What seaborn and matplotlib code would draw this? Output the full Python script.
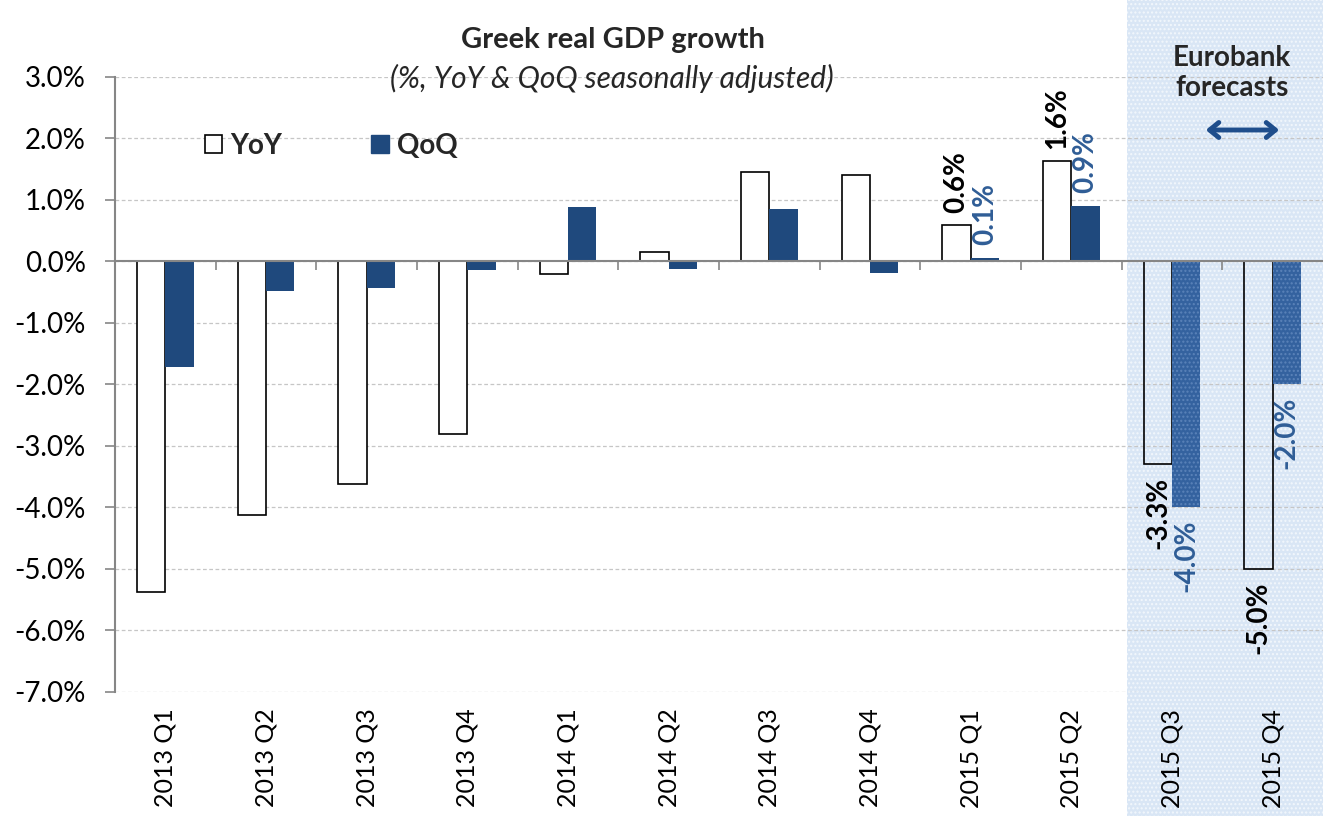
import matplotlib
matplotlib.use("Agg")
import matplotlib.pyplot as plt
import seaborn as sns
import pandas as pd
import numpy as np
from matplotlib.patches import Patch
from matplotlib.ticker import FuncFormatter, MultipleLocator

# Quarterly real GDP growth, % (seasonally adjusted)
quarters = ["2013 Q1", "2013 Q2", "2013 Q3", "2013 Q4",
            "2014 Q1", "2014 Q2", "2014 Q3", "2014 Q4",
            "2015 Q1", "2015 Q2", "2015 Q3", "2015 Q4"]
yoy = [-5.38, -4.12, -3.62, -2.8, -0.2, 0.15, 1.45, 1.4, 0.59, 1.63, -3.3, -5.0]
qoq = [-1.72, -0.48, -0.43, -0.14, 0.88, -0.12, 0.85, -0.19, 0.06, 0.91, -4.0, -2.0]
labelled = ["2015 Q1", "2015 Q2", "2015 Q3", "2015 Q4"]
forecast = ["2015 Q3", "2015 Q4"]
series = ["YoY", "QoQ"]

NAVY = "#1f497d"
LABEL_BLUE = "#2f5d96"
AXIS_GREY = "#868686"

sns.set_theme(style="white")
plt.rcParams["font.family"] = ["Lato", "DejaVu Sans"]
plt.rcParams["hatch.linewidth"] = 1.0

df = pd.DataFrame({
    "quarter": quarters * 2,
    "series": [series[0]] * len(quarters) + [series[1]] * len(quarters),
    "value": yoy + qoq,
})

W, H = 1323, 816
fig = plt.figure(figsize=(W / 100, H / 100), dpi=100)
ax = fig.add_axes([115 / W, 1 - 692 / H, 1 - 115 / W, (692 - 77) / H])
ax.set_facecolor("none")

sns.barplot(data=df, x="quarter", y="value", hue="series", order=quarters,
            hue_order=series, palette={"YoY": "white", "QoQ": NAVY},
            width=0.56, gap=0, saturation=1, legend=False, ax=ax, zorder=3)

yoy_bars, qoq_bars = ax.containers[0], ax.containers[1]
for bar, q in zip(yoy_bars, quarters):
    bar.set_edgecolor("black")
    bar.set_linewidth(1.2)
    if q in forecast:
        bar.set_facecolor("none")
for bar, q in zip(qoq_bars, quarters):
    bar.set_linewidth(0)
    if q in forecast:
        bar.set_facecolor("#34629f")
        bar.set_edgecolor("#5b83b9")
        bar.set_hatch("....")
        bar.set_linewidth(0)

# forecast window shading
first_fc = quarters.index(forecast[0])
ax.axvspan(first_fc - 0.45, len(quarters) - 0.5, ymin=-0.21, ymax=1.13,
           facecolor="#d9e6f5", edgecolor="#f2f7fc", hatch="....", lw=0,
           clip_on=False, zorder=0.3)

ax.set_xlim(-0.5, len(quarters) - 0.5)
ax.set_ylim(-7.0, 3.0)
ax.yaxis.set_major_locator(MultipleLocator(1.0))
ax.yaxis.set_major_formatter(FuncFormatter(lambda v, p: f"{v:.1f}%"))
ax.set_xlabel("")
ax.set_ylabel("")

ax.set_axisbelow(True)
ax.yaxis.grid(True, linestyle=(0, (3, 2)), color="#c6c6c6", lw=0.9)
ax.xaxis.grid(False)

for side in ["top", "right", "bottom"]:
    ax.spines[side].set_visible(False)
ax.spines["left"].set_color(AXIS_GREY)
ax.spines["left"].set_linewidth(1.5)

ax.tick_params(axis="y", left=True, direction="out", length=7, width=1.2,
               color=AXIS_GREY, pad=14, labelsize=20, labelcolor="black")
ax.tick_params(axis="x", bottom=False, length=0, pad=12, labelsize=18,
               labelrotation=90, labelcolor="black")

# zero line with category separators
ax.axhline(0, color=AXIS_GREY, lw=1.5, zorder=4)
ax.vlines(np.arange(0.5, len(quarters) - 0.5, 1.0), 0, -0.14,
          color=AXIS_GREY, lw=1.2, zorder=4)

# value labels on the latest quarters
for cont, vals, colr in [(yoy_bars, yoy, "black"), (qoq_bars, qoq, LABEL_BLUE)]:
    for bar, q, v in zip(cont, quarters, vals):
        if q not in labelled:
            continue
        xc = bar.get_x() + bar.get_width() / 2
        ax.annotate(f"{v:.1f}%", (xc, v), xytext=(0, 9 if v > 0 else -9),
                    textcoords="offset points", rotation=90, ha="center",
                    va="bottom" if v > 0 else "top", fontsize=20,
                    fontweight="bold", color=colr, zorder=5)

ax.legend(handles=[Patch(facecolor="white", edgecolor="black", lw=1.2),
                   Patch(facecolor=NAVY, edgecolor=NAVY)],
          labels=series, ncol=2, frameon=False, loc="center left",
          bbox_to_anchor=(205 / W, 1 - 145.5 / H), bbox_transform=fig.transFigure,
          prop={"weight": "bold", "size": 20}, handlelength=0.62,
          handleheight=0.62, handletextpad=0.3, columnspacing=3.2,
          borderpad=0, borderaxespad=0)

fig.text(613 / W, 1 - 40 / H, "Greek real GDP growth", ha="center", va="center",
         fontsize=21, fontweight="bold")
fig.text(612 / W, 1 - 78 / H, "(%, YoY & QoQ seasonally adjusted)", ha="center",
         va="center", fontsize=21.5, fontstyle="italic")

fig.text(1232 / W, 1 - 73 / H, "Eurobank\nforecasts", ha="center", va="center",
         fontsize=20, fontweight="bold", linespacing=1.15)
ax.annotate("", xy=(1282 / W, 1 - 130 / H), xytext=(1203 / W, 1 - 130 / H),
            xycoords="figure fraction", textcoords="figure fraction",
            arrowprops=dict(arrowstyle="<->,head_length=0.55,head_width=0.45",
                            color="#1f4e8c", lw=3.5))

fig.savefig("out.png", dpi=100)
